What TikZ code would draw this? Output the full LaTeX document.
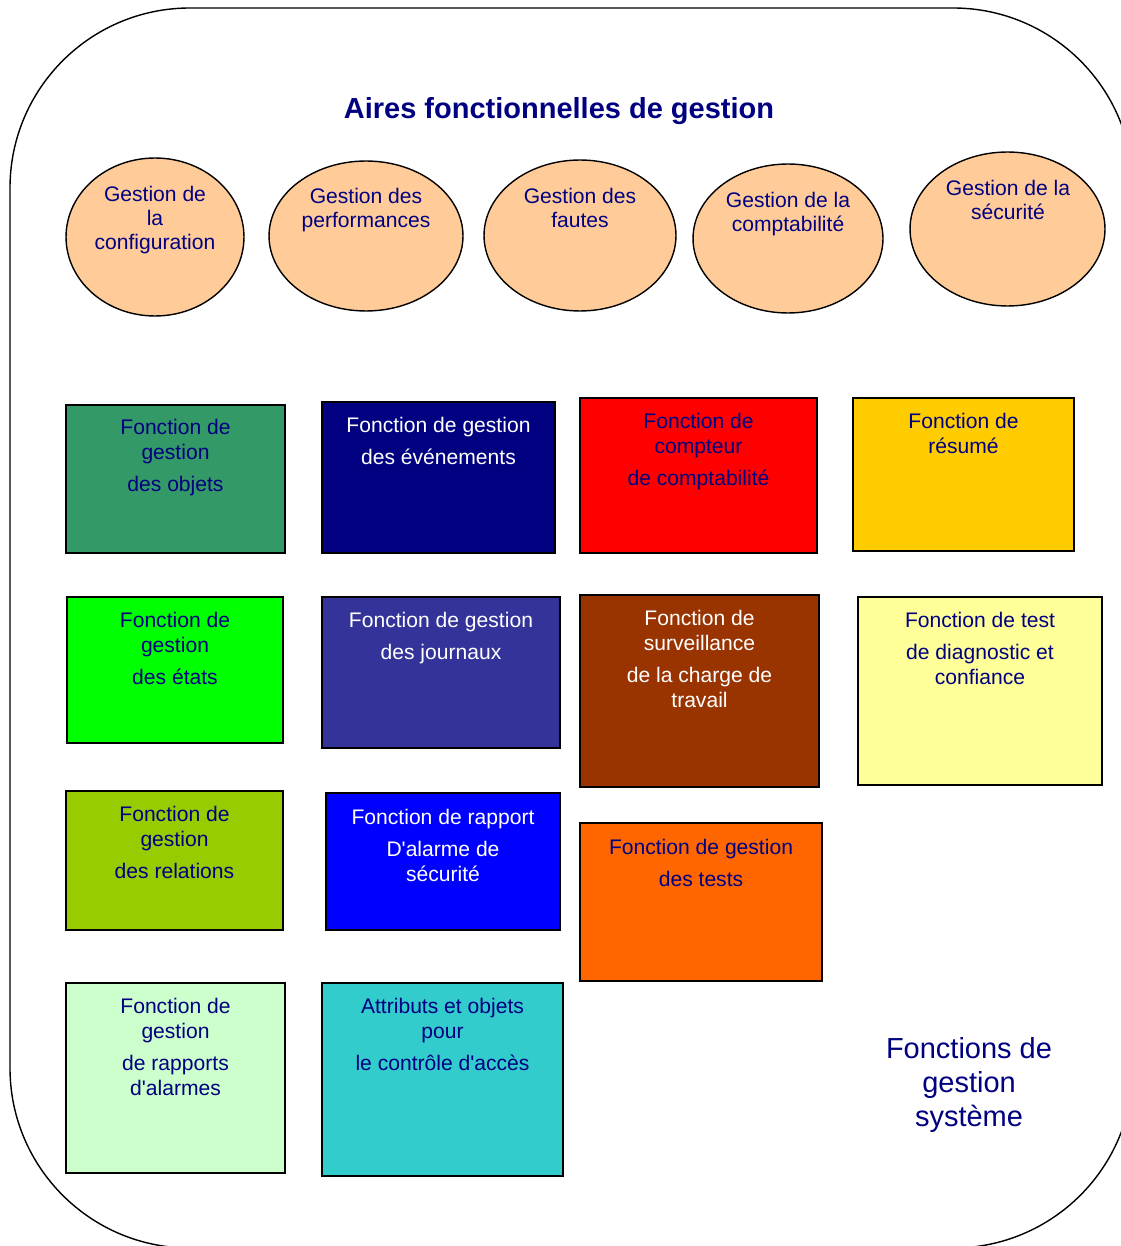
\documentclass[tikz,border=0pt]{standalone}
\usepackage{fontspec}
\setmainfont{Liberation Sans}
\usetikzlibrary{shapes.geometric, fit}

\definecolor{navy}{HTML}{000080}
\definecolor{peach}{HTML}{FFCC99}
\definecolor{seagreen}{HTML}{339966}
\definecolor{gold}{HTML}{FFCC00}
\definecolor{lime}{HTML}{00FF00}
\definecolor{indigo}{HTML}{333399}
\definecolor{rust}{HTML}{993300}
\definecolor{paleyellow}{HTML}{FFFF99}
\definecolor{olive}{HTML}{99CC00}
\definecolor{pureblue}{HTML}{0000FF}
\definecolor{orangered}{HTML}{FF6600}
\definecolor{mint}{HTML}{CCFFCC}
\definecolor{teal}{HTML}{33CCCC}

\begin{document}
\begin{tikzpicture}[x=0.02cm, y=-0.02cm,
    area/.style={ellipse, draw, line width=0.8pt, fill=peach, inner sep=0pt},
    areatext/.style={anchor=north, align=center, inner sep=0pt, text=navy, font=\fontsize{12}{13.6}\selectfont},
    fbox/.style={draw, line width=1.1pt, inner sep=0pt},
    ftext/.style={anchor=north, align=center, inner sep=0pt, text=navy, font=\fontsize{12}{14.2}\selectfont}]
    \useasboundingbox (0,0) rectangle (1120,1246);

    % cadre general
    \draw[line width=0.8pt, rounded corners=3.6cm] (10,8) rectangle (1133,1248);

    \node (titre)[text=navy, font=\fontsize{16.5}{20}\selectfont\bfseries] at (559,111) {Aires fonctionnelles de gestion};

    % aires fonctionnelles
    \node (config)[area, minimum width=3.56cm, minimum height=3.16cm] at (155,237) {};
    \node (config-t)[areatext] at (155,186) {Gestion de\\la\\configuration};
    \node (perf)[area, minimum width=3.88cm, minimum height=3.0cm] at (366,236) {};
    \node (perf-t)[areatext] at (366,188) {Gestion des\\performances};
    \node (fautes)[area, minimum width=3.84cm, minimum height=3.02cm] at (580,235.5) {};
    \node (fautes-t)[areatext] at (580,188) {Gestion des\\fautes};
    \node (compta)[area, minimum width=3.8cm, minimum height=2.98cm] at (788,238.5) {};
    \node (compta-t)[areatext] at (788,192) {Gestion de la\\comptabilité};
    \node (secu)[area, minimum width=3.9cm, minimum height=3.08cm] at (1007.5,229) {};
    \node (secu-t)[areatext] at (1008,180) {Gestion de la\\sécurité};

    % fonctions de gestion
    \node (objets)[fbox, fill=seagreen, fit={(66,405) (285,553)}] {};
    \node (objets-t)[ftext] at (175.5,419) {Fonction de\\gestion\\[4pt]des objets};
    \node (evenements)[fbox, fill=navy, fit={(322,402) (555,553)}] {};
    \node (evenements-t)[ftext, text=white] at (438.5,417) {Fonction de gestion\\[4pt]des événements};
    \node (compteur)[fbox, fill=red, fit={(580,398) (817,553)}] {};
    \node (compteur-t)[ftext] at (698.5,413) {Fonction de\\compteur\\[4pt]de comptabilité};
    \node (resume)[fbox, fill=gold, fit={(853,398) (1074,551)}] {};
    \node (resume-t)[ftext] at (963.5,413) {Fonction de\\résumé};

    \node (etats)[fbox, fill=lime, fit={(67,597) (283,743)}] {};
    \node (etats-t)[ftext] at (175,612) {Fonction de\\gestion\\[4pt]des états};
    \node (journaux)[fbox, fill=indigo, fit={(322,597) (560,748)}] {};
    \node (journaux-t)[ftext, text=white] at (441,612) {Fonction de gestion\\[4pt]des journaux};
    \node (surveillance)[fbox, fill=rust, fit={(580,595) (819,787)}] {};
    \node (surveillance-t)[ftext, text=white] at (699.5,610) {Fonction de\\surveillance\\[4pt]de la charge de\\travail};
    \node (diagnostic)[fbox, fill=paleyellow, fit={(858,597) (1102,785)}] {};
    \node (diagnostic-t)[ftext] at (980,612) {Fonction de test\\[4pt]de diagnostic et\\confiance};

    \node (relations)[fbox, fill=olive, fit={(66,791) (283,930)}] {};
    \node (relations-t)[ftext] at (174.5,806) {Fonction de\\gestion\\[4pt]des relations};
    \node (alarmesecu)[fbox, fill=pureblue, fit={(326,793) (560,930)}] {};
    \node (alarmesecu-t)[ftext, text=white] at (443,809) {Fonction de rapport\\[4pt]D\textquotesingle alarme de\\sécurité};
    \node (tests)[fbox, fill=orangered, fit={(580,823) (822,981)}] {};
    \node (tests-t)[ftext] at (701,839) {Fonction de gestion\\[4pt]des tests};

    \node (rapports)[fbox, fill=mint, fit={(66,983) (285,1173)}] {};
    \node (rapports-t)[ftext] at (175.5,998) {Fonction de\\gestion\\[4pt]de rapports\\d\textquotesingle alarmes};
    \node (acces)[fbox, fill=teal, fit={(322,983) (563,1176)}] {};
    \node (acces-t)[ftext] at (442.5,998) {Attributs et objets\\pour\\[4pt]le contrôle d\textquotesingle accès};

    \node (systeme)[align=center, text=navy, font=\fontsize{16.5}{19.3}\selectfont] at (969,1085) {Fonctions de\\gestion\\système};
\end{tikzpicture}
\end{document}
